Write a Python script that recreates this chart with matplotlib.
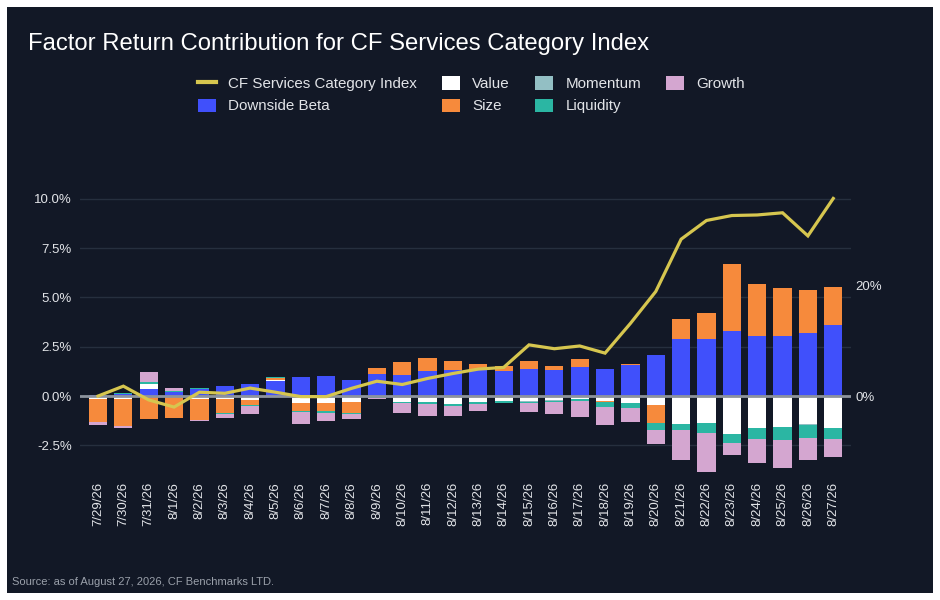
import matplotlib
matplotlib.use("agg")
import matplotlib.pyplot as plt
from matplotlib.patches import Rectangle, Patch
from matplotlib.lines import Line2D
import numpy as np

dates = ["7/29/26", "7/30/26", "7/31/26", "8/1/26", "8/2/26", "8/3/26", "8/4/26", "8/5/26",
         "8/6/26", "8/7/26", "8/8/26", "8/9/26", "8/10/26", "8/11/26", "8/12/26", "8/13/26",
         "8/14/26", "8/15/26", "8/16/26", "8/17/26", "8/18/26", "8/19/26", "8/20/26", "8/21/26",
         "8/22/26", "8/23/26", "8/24/26", "8/25/26", "8/26/26", "8/27/26"]

# factor contributions, in %
downside_beta = [0.05, 0.12, 0.36, 0.20, 0.34, 0.50, 0.60, 0.76, 0.96, 1.02, 0.81, 1.12, 1.07, 1.27, 1.32,
                 1.37, 1.27, 1.37, 1.32, 1.47, 1.37, 1.57, 2.06, 2.88, 2.88, 3.28, 3.03, 3.03, 3.18, 3.59]
value = [-0.15, -0.15, 0.27, 0.0, -0.15, -0.15, -0.20, 0.05, -0.36, -0.36, -0.30, -0.03, -0.30, -0.30, -0.40,
         -0.30, -0.25, -0.25, -0.20, -0.15, -0.25, -0.33, -0.47, -1.44, -1.34, -1.90, -1.64, -1.59, -1.44, -1.64]
size = [-1.17, -1.37, -1.17, -1.10, -1.07, -0.71, -0.25, 0.10, -0.40, -0.40, -0.56, 0.30, 0.66, 0.66, 0.46,
        0.25, 0.25, 0.40, 0.20, 0.40, -0.05, 0.05, -0.88, 1.02, 1.32, 3.40, 2.64, 2.44, 2.18, 1.93]
momentum = [0, 0, 0, 0, 0, 0, 0, 0, 0, 0, 0, -0.03, 0, 0, 0, 0, 0, -0.03, -0.04, 0, 0, 0, 0, 0,
            -0.05, 0, 0, 0, -0.05, 0]
liquidity = [0, 0.03, 0.08, 0.05, 0.07, -0.05, -0.05, 0.05, -0.05, -0.10, -0.05, -0.05, -0.05, -0.10, -0.10,
             -0.10, -0.10, -0.05, -0.06, -0.10, -0.25, -0.25, -0.39, -0.30, -0.46, -0.50, -0.56, -0.66, -0.61, -0.56]
growth = [-0.15, -0.10, 0.50, 0.15, -0.05, -0.20, -0.40, 0, -0.60, -0.40, -0.25, -0.05, -0.50, -0.60, -0.50,
          -0.36, 0, -0.46, -0.60, -0.81, -0.91, -0.71, -0.71, -1.52, -1.98, -0.61, -1.17, -1.37, -1.12, -0.91]

# cumulative index return, in % (right axis)
index_ret = [0, 1.8, -0.7, -2.0, 0.7, 0.5, 1.45, 0.7, -0.1, -0.1, 1.4, 2.7, 2.1, 3.2, 4.1,
             4.9, 5.2, 9.3, 8.6, 9.1, 7.8, 13.2, 19.0, 28.5, 31.9, 32.8, 32.9, 33.3, 29.1, 35.9]

bg = "#121826"
txt = "#e2e4e8"

plt.rcParams['font.family'] = ['Liberation Sans', 'DejaVu Sans']

fig = plt.figure(figsize=(9.4, 6.0), dpi=100, facecolor="white")
fig.patches.append(Rectangle((7 / 940, 7 / 600), 926 / 940, 586 / 600, transform=fig.transFigure,
                             facecolor=bg, edgecolor="none", zorder=-10))

ax = fig.add_axes([80 / 940, 125 / 600, 771 / 940, 296 / 600])
ax.set_facecolor(bg)

factors = [
    ("Downside Beta", downside_beta, "#4050fb"),
    ("Value", value, "#ffffff"),
    ("Size", size, "#f68a3c"),
    ("Momentum", momentum, "#93bfc4"),
    ("Liquidity", liquidity, "#2bb6a3"),
    ("Growth", growth, "#d4a6d0"),
]

x = np.arange(len(dates))
pos_base = np.zeros(len(dates))
neg_base = np.zeros(len(dates))
for name, vals, col in factors:
    v = np.array(vals, dtype=float)
    p = np.where(v > 0, v, 0)
    n = np.where(v < 0, v, 0)
    ax.bar(x, p, 0.72, bottom=pos_base, color=col, zorder=2, linewidth=0)
    ax.bar(x, n, 0.72, bottom=neg_base, color=col, zorder=2, linewidth=0)
    pos_base += p
    neg_base += n

ax.set_xlim(-0.71, 29.7)
ax.set_ylim(-4.0, 11.0)
ax.set_yticks([-2.5, 0, 2.5, 5, 7.5, 10])
ax.set_yticklabels(["-2.5%", "0.0%", "2.5%", "5.0%", "7.5%", "10.0%"])
ax.set_xticks(x)
ax.set_xticklabels(dates, rotation=90)
ax.tick_params(axis="both", length=0, colors=txt, labelsize=9.5)
ax.tick_params(axis="y", pad=6)
ax.tick_params(axis="x", pad=5)
ax.yaxis.grid(True, color="#262f3e", linewidth=1, zorder=0)
ax.set_axisbelow(True)
ax.axhline(0, color="#8d939d", linewidth=2, zorder=3)
for s in ax.spines.values():
    s.set_visible(False)

ax2 = ax.twinx()
ax2.plot(x, index_ret, color="#d6c64f", linewidth=2.3, zorder=5, solid_joinstyle="miter")
ax2.set_ylim(-4.0 * 3.585, 11.0 * 3.585)
ax2.set_yticks([0, 20])
ax2.set_yticklabels(["0%", "20%"])
ax2.tick_params(axis="y", length=0, colors=txt, labelsize=9.5, pad=3)
for s in ax2.spines.values():
    s.set_visible(False)

fig.text(28 / 940, 1 - 44 / 600, "Factor Return Contribution for CF Services Category Index",
         color="white", fontsize=17.2, va="center", ha="left")

handles = [Line2D([], [], color="#d6c64f", linewidth=3)]
labels = ["CF Services Category Index"]
for name, vals, col in factors:
    handles.append(Patch(facecolor=col, edgecolor="none"))
    labels.append(name)
# column-major fill gives rows: Index, Value, Momentum, Growth / Beta, Size, Liquidity
leg = fig.legend(handles, labels, ncol=4,
                 loc="upper left", bbox_to_anchor=(198 / 940, 1 - 76 / 600), frameon=False,
                 fontsize=10.9, labelcolor=txt, handlelength=1.2, handleheight=1.0,
                 handletextpad=0.8, columnspacing=1.65, labelspacing=0.5, borderpad=0,
                 borderaxespad=0)

fig.text(12 / 940, 1 - 582 / 600, "Source: as of August 27, 2026, CF Benchmarks LTD.",
         color="#9aa0aa", fontsize=8, va="center", ha="left")

fig.savefig("out.png", dpi=100, facecolor="white")
